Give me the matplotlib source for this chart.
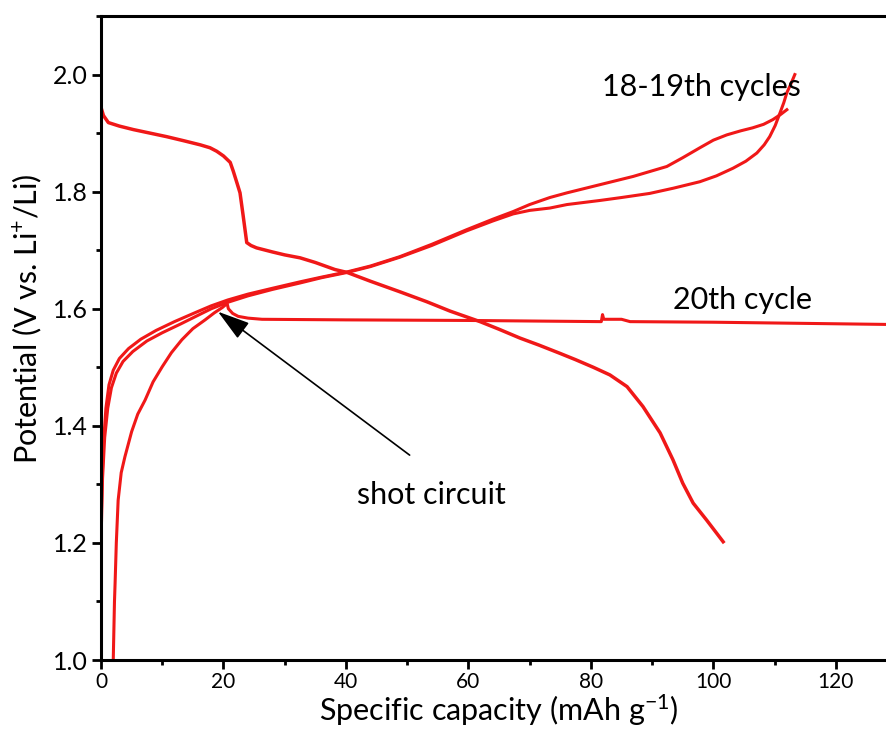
import matplotlib
matplotlib.use("Agg")
import matplotlib.pyplot as plt
from matplotlib.ticker import MultipleLocator, FormatStrFormatter

# ---- data ----
# 18-19th cycles discharge
dis_x = [0, 0.4, 1.2, 3, 5.3, 8, 10.7, 13.5, 16.2, 17.8, 18.9, 20, 21.1, 21.6, 22.2, 22.7,
         23.2, 23.8, 24.5, 25.4, 28, 30, 32.5, 35, 38.2, 40.2, 44, 48.8, 53.2, 57, 61.9,
         65, 68.4, 71.5, 74.9, 77.5, 80.4, 83.1, 85.9, 88.5, 91.3, 93.4, 95, 96.7, 98.9,
         101.6]
dis_y = [1.944, 1.930, 1.918, 1.912, 1.906, 1.900, 1.894, 1.887, 1.880, 1.875, 1.869, 1.861,
         1.850, 1.835, 1.815, 1.798, 1.760, 1.713, 1.708, 1.704, 1.697, 1.692, 1.687, 1.679,
         1.667, 1.662, 1.647, 1.629, 1.612, 1.596, 1.578, 1.565, 1.550, 1.538, 1.524, 1.513,
         1.500, 1.487, 1.467, 1.433, 1.388, 1.342, 1.302, 1.268, 1.239, 1.202]

# 18-19th cycles charge (two curves)
chA_x = [0, 0.15, 0.4, 0.8, 1.3, 2.0, 3.0, 4.5, 6.5, 9, 12, 15.3, 18, 20.7, 24, 28, 32.5,
         36, 40.2, 44, 48.8, 54, 59.7, 64, 67.3, 70, 73.3, 76.1, 81.5, 86.9, 92.4, 95,
         97.8, 100, 102.2, 104.5, 106.4, 108.2, 109.7, 111, 112]
chA_y = [1.21, 1.30, 1.37, 1.43, 1.47, 1.495, 1.515, 1.532, 1.548, 1.563, 1.578, 1.593,
         1.605, 1.615, 1.625, 1.635, 1.646, 1.654, 1.663, 1.673, 1.689, 1.710, 1.735, 1.753,
         1.766, 1.778, 1.790, 1.798, 1.812, 1.826, 1.843, 1.858, 1.875, 1.888, 1.897, 1.904,
         1.909, 1.915, 1.923, 1.932, 1.940]

chB_x = [0, 0.25, 0.6, 1.1, 1.7, 2.5, 3.6, 5.2, 7.5, 10, 13, 15.3, 18, 20.7, 24, 28, 32.5,
         36, 40.2, 44, 48.8, 54, 59.7, 64, 67.3, 70, 73.3, 76.1, 81.5, 85, 89.6, 93.5, 97.8,
         100.5, 103.2, 105.3, 107.1, 108.3, 109.2, 110.1, 110.9, 111.5, 112, 112.7, 113.3]
chB_y = [1.20, 1.31, 1.38, 1.43, 1.465, 1.49, 1.51, 1.527, 1.545, 1.559, 1.574, 1.586,
         1.600, 1.611, 1.622, 1.633, 1.644, 1.653, 1.662, 1.672, 1.688, 1.708, 1.733, 1.750,
         1.762, 1.768, 1.772, 1.778, 1.785, 1.790, 1.797, 1.806, 1.817, 1.827, 1.840, 1.852,
         1.866, 1.880, 1.894, 1.913, 1.935, 1.952, 1.969, 1.985, 2.0]

# 20th cycle charge (short circuit)
c20_x = [2.0, 2.1, 2.2, 2.3, 2.5, 2.8, 3.3, 3.9, 5.0, 6, 7.2, 8.5, 10, 11.5, 13.2, 15, 17,
         18.5, 19.8, 20.6, 20.8, 21.5, 22.4, 24, 26.3, 40, 60, 81.7, 81.9, 82.1, 85, 86.4,
         100, 115, 130]
c20_y = [1.0, 1.05, 1.10, 1.131, 1.20, 1.273, 1.32, 1.347, 1.39, 1.42, 1.444, 1.475, 1.501,
         1.525, 1.547, 1.566, 1.581, 1.593, 1.602, 1.609, 1.600, 1.592, 1.587, 1.584, 1.582,
         1.581, 1.580, 1.578, 1.590, 1.582, 1.582, 1.578, 1.577, 1.575, 1.573]

label_1819 = "18-19th cycles"
label_20 = "20th cycle"
label_sc = "shot circuit"

# ---- figure ----
plt.rcParams['font.family'] = ['Lato', 'DejaVu Sans']
plt.rcParams['mathtext.fontset'] = 'custom'
plt.rcParams['mathtext.rm'] = 'Lato'
plt.rcParams['mathtext.it'] = 'Lato:italic'

fig = plt.figure(figsize=(8.86, 7.49), dpi=100)
ax = fig.add_axes([0.114, 0.1188, 0.8985, 0.8598])

red = '#f01818'
lw = 2.2
ax.plot(dis_x, dis_y, color=red, lw=lw + 0.3)
ax.plot(chA_x, chA_y, color=red, lw=lw)
ax.plot(chB_x, chB_y, color=red, lw=lw)
ax.plot(c20_x, c20_y, color=red, lw=lw)

ax.set_xlim(0, 130)
ax.set_ylim(1.0, 2.1)
ax.xaxis.set_major_locator(MultipleLocator(20))
ax.xaxis.set_minor_locator(MultipleLocator(10))
ax.yaxis.set_major_locator(MultipleLocator(0.2))
ax.yaxis.set_minor_locator(MultipleLocator(0.1))
ax.yaxis.set_major_formatter(FormatStrFormatter('%.1f'))

for s in ax.spines.values():
    s.set_linewidth(2.2)
ax.tick_params(which='major', direction='out', length=6.5, width=2.0, pad=3)
ax.tick_params(which='minor', direction='out', length=3.5, width=2.0)
ax.tick_params(axis='x', which='major', labelsize=15, pad=2)
ax.tick_params(axis='y', which='major', labelsize=18)

ax.set_xlabel("Specific capacity (mAh g$^{-1}$)", fontsize=22)
ax.xaxis.set_label_coords(0.5, -0.05)
ax.set_ylabel("Potential (V vs. Li$^{+}$/Li)", fontsize=22)
ax.yaxis.set_label_coords(-0.072, 0.5295)

ax.text(98.1, 1.978, label_1819, fontsize=22, ha='center', va='center')
ax.text(104.8, 1.615, label_20, fontsize=22, ha='center', va='center')
ax.text(53.9, 1.282, label_sc, fontsize=22, ha='center', va='center')

ax.annotate("", xy=(19.1, 1.595), xytext=(50.4, 1.350),
            arrowprops=dict(arrowstyle='-|>,head_length=1.0,head_width=0.3',
                            mutation_scale=20, color='black', lw=1.2,
                            shrinkA=0, shrinkB=0))

fig.savefig("out.png", dpi=100)
